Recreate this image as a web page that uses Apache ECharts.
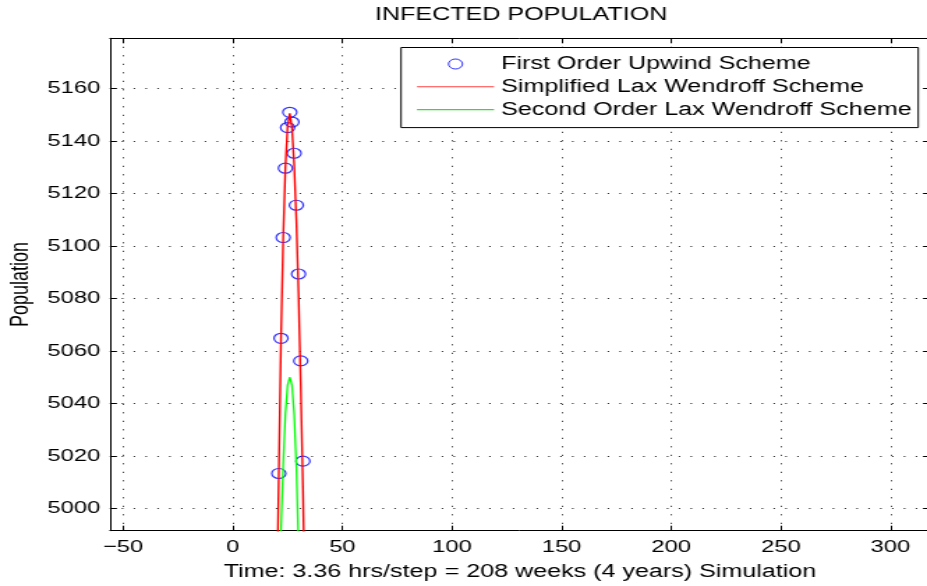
<!DOCTYPE html>
<html>
<head>
<meta charset="utf-8">
<script src="https://cdn.jsdelivr.net/npm/echarts@6/dist/echarts.min.js"></script>
<style>
html, body { margin: 0; padding: 0; background: #fff; overflow: hidden; width: 927px; height: 586px; }
#chart { width: 665px; height: 586px; transform: scaleX(1.394); transform-origin: 0 0; }
</style>
</head>
<body>
<div id="chart"></div>
<script>
// ---- data ----
const upwindX = [21, 22, 23, 24, 25, 26, 27, 28, 29, 30, 31, 32];
const upwindY = [5013.3, 5064.8, 5103.2, 5129.6, 5145.1, 5150.9, 5147.2, 5135.3, 5115.5, 5089.3, 5056.2, 5018.0];
const laxX = [20, 21, 22, 23, 24, 25, 26, 27, 28, 29, 30, 31, 32, 33];
const laxY = [4960, 5013, 5065, 5103, 5130, 5145.5, 5150.5, 5145, 5131, 5110, 5082, 5047, 5008, 4960];
const secondX = [21, 22, 23, 24, 25, 26, 27, 28, 29, 30, 31];
const secondY = [4960, 4992, 5017, 5036, 5047, 5050, 5047, 5036, 5016, 4986, 4955];
const xTicks = [-50, 0, 50, 100, 150, 200, 250, 300];
const yTicks = [5000, 5020, 5040, 5060, 5080, 5100, 5120, 5140, 5160];
const seriesNames = ['First Order Upwind Scheme', 'Simplified Lax Wendroff Scheme', 'Second Order Lax Wendroff Scheme'];
const titleText = 'INFECTED POPULATION';
const xName = 'Time: 3.36 hrs/step = 208 weeks (4 years) Simulation';
const yName = 'Population';

// ---- chart ----
const FONT = "'Liberation Sans', Arial, Helvetica, sans-serif";
const toPairs = (xs, ys) => xs.map((x, i) => [x, ys[i]]);
const dotted = { show: true, lineStyle: { color: '#1a1a1a', width: 1, type: [1, 7.5] } };
const axisLine = { show: true, onZero: false, lineStyle: { color: '#000', width: 1 } };
const X_MIN = -56, X_MAX = 318, Y_MIN = 4991.5, Y_MAX = 5179.1;
const LINE_ICON = 'path://M0,0H100V2H0Z';

const chart = echarts.init(document.getElementById('chart'), null, { renderer: 'canvas' });
chart.setOption({
  animation: false,
  backgroundColor: '#fff',
  title: {
    text: titleText, left: 264, top: 1,
    textStyle: { fontFamily: FONT, fontSize: 18, fontWeight: 'normal', color: '#000' }
  },
  legend: {
    orient: 'vertical', left: 287.7, top: 47.5,
    padding: [7.5, 4.8, 9, 11.4],
    backgroundColor: '#fff', borderColor: '#000', borderWidth: 1,
    itemWidth: 55.3, itemHeight: 10, itemGap: 4.8,
    textStyle: { fontFamily: FONT, fontSize: 18, color: '#000' },
    data: [
      { name: seriesNames[0], icon: 'circle', itemStyle: { color: 'rgba(0,0,0,0)', borderColor: '#0000ff', borderWidth: 1 } },
      { name: seriesNames[1], icon: LINE_ICON, itemStyle: { color: '#ff4040', borderWidth: 0 } },
      { name: seriesNames[2], icon: LINE_ICON, itemStyle: { color: '#30e030', borderWidth: 0 } }
    ]
  },
  grid: { left: 78.9, top: 38.3, width: 588.2, height: 492.4, containLabel: false, outerBoundsMode: 'none' },
  xAxis: [
    {
      type: 'value', position: 'bottom', min: X_MIN, max: X_MAX,
      name: xName, nameLocation: 'middle', nameGap: 32, nameMoveOverlap: false,
      nameTextStyle: { fontFamily: FONT, fontSize: 18, color: '#000' },
      axisLine: axisLine,
      axisTick: { show: true, inside: true, length: 5, customValues: xTicks, lineStyle: { color: '#000' } },
      axisLabel: { customValues: xTicks, formatter: v => String(v).replace('-', '\u2212'), color: '#000', fontFamily: FONT, fontSize: 17, margin: 8 },
      splitLine: dotted
    },
    {
      type: 'value', position: 'top', min: X_MIN, max: X_MAX,
      axisLine: axisLine,
      axisTick: { show: true, inside: true, length: 5, customValues: xTicks, lineStyle: { color: '#000' } },
      axisLabel: { show: false, customValues: xTicks },
      splitLine: { show: false }
    }
  ],
  yAxis: [
    {
      type: 'value', position: 'left', min: Y_MIN, max: Y_MAX,
      name: yName, nameLocation: 'middle', nameRotate: 90, nameGap: 55, nameMoveOverlap: false,
      nameTextStyle: { fontFamily: FONT, fontSize: 18, color: '#000' },
      axisLine: axisLine,
      axisTick: { show: true, inside: true, length: 5, customValues: yTicks, lineStyle: { color: '#000' } },
      axisLabel: { customValues: yTicks, formatter: v => String(v), color: '#000', fontFamily: FONT, fontSize: 17, margin: 7 },
      splitLine: dotted
    },
    {
      type: 'value', position: 'right', min: Y_MIN, max: Y_MAX,
      axisLine: axisLine,
      axisTick: { show: true, inside: true, length: 5, customValues: yTicks, lineStyle: { color: '#000' } },
      axisLabel: { show: false, customValues: yTicks },
      splitLine: { show: false }
    }
  ],
  series: [
    {
      name: seriesNames[0], type: 'scatter', xAxisIndex: 0, yAxisIndex: 0,
      symbol: 'circle', symbolSize: 10,
      itemStyle: { color: 'rgba(0,0,0,0)', borderColor: '#0000ff', borderWidth: 1.2 },
      data: toPairs(upwindX, upwindY)
    },
    {
      name: seriesNames[1], type: 'line', xAxisIndex: 0, yAxisIndex: 0,
      symbol: 'none', clip: true,
      lineStyle: { color: '#ff0000', width: 1.4 }, itemStyle: { color: '#ff0000' },
      data: toPairs(laxX, laxY)
    },
    {
      name: seriesNames[2], type: 'line', xAxisIndex: 0, yAxisIndex: 0,
      symbol: 'none', clip: true,
      lineStyle: { color: '#00ff00', width: 1.3 }, itemStyle: { color: '#00ff00' },
      data: toPairs(secondX, secondY)
    }
  ]
});
</script>
</body>
</html>
